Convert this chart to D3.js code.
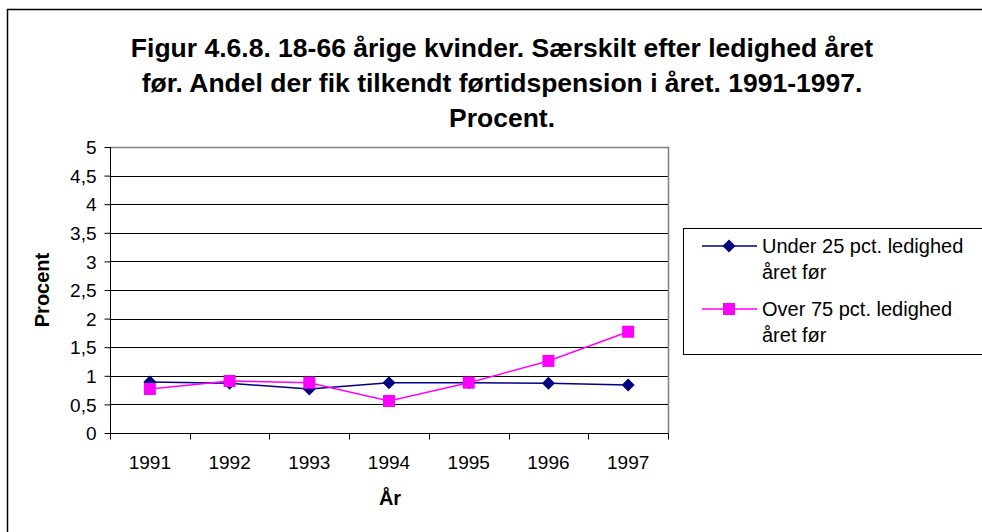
<!DOCTYPE html>
<html>
<head>
<meta charset="utf-8">
<script src="https://cdn.jsdelivr.net/npm/d3@7"></script>
<style>
  body { margin: 0; background: #fff; }
  svg text { font-family: Arial, "Liberation Sans", sans-serif; fill: #000; }
</style>
</head>
<body>
<div id="chart"></div>
<script>
var years = ['1991', '1992', '1993', '1994', '1995', '1996', '1997'];
var under25 = [0.89, 0.87, 0.77, 0.88, 0.88, 0.87, 0.84];
var over75 = [0.77, 0.91, 0.88, 0.56, 0.88, 1.26, 1.77];
var yTicks = [0, 0.5, 1, 1.5, 2, 2.5, 3, 3.5, 4, 4.5, 5];
var titleLines = [
    'Figur 4.6.8. 18-66 årige kvinder. Særskilt efter ledighed året',
    'før. Andel der fik tilkendt førtidspension i året. 1991-1997.',
    'Procent.'
];
var seriesNames = [['Under 25 pct. ledighed', 'året før'], ['Over 75 pct. ledighed', 'året før']];

var W = 982, H = 532;
var plot = { left: 110, top: 147, right: 668, bottom: 433 };

var svg = d3.select('#chart').append('svg')
    .attr('width', W)
    .attr('height', H);

// outer chart border (runs off the right and bottom edge)
svg.append('rect')
    .attr('x', 7.5).attr('y', 9.5)
    .attr('width', 1000).attr('height', 600)
    .attr('fill', '#fff')
    .attr('stroke', '#000')
    .attr('stroke-width', 1.5);

var x = d3.scaleBand().domain(years).range([plot.left, plot.right]);
var y = d3.scaleLinear().domain([0, 5]).range([plot.bottom, plot.top]);

// gridlines
svg.append('g')
    .selectAll('line')
    .data(yTicks.slice(1))
    .enter().append('line')
    .attr('x1', plot.left).attr('x2', plot.right)
    .attr('y1', function(d){ return Math.round(y(d)) + 0.5; })
    .attr('y2', function(d){ return Math.round(y(d)) + 0.5; })
    .attr('stroke', '#000')
    .attr('stroke-width', 1);

// plot area frame (grey, top & right)
svg.append('path')
    .attr('d', 'M' + plot.left + ',' + (plot.top + 0.5) + 'H' + (plot.right + 0.5) + 'V' + plot.bottom)
    .attr('fill', 'none')
    .attr('stroke', '#808080')
    .attr('stroke-width', 1.5);

// y axis
var yAxis = svg.append('g')
    .attr('transform', 'translate(' + (plot.left + 0.5) + ',0)')
    .call(d3.axisLeft(y).tickValues(yTicks).tickSize(6).tickPadding(8)
        .tickFormat(function(d){ return String(d).replace('.', ','); }));
yAxis.selectAll('text').style('font-size', '19px').attr('dy', '0.35em');
yAxis.selectAll('line, path').attr('stroke', '#000');
yAxis.select('.domain').attr('d', 'M0,' + plot.top + 'V' + (plot.bottom + 0.5));

// x axis
var xAxis = svg.append('g')
    .attr('transform', 'translate(0,' + (plot.bottom + 0.5) + ')')
    .call(d3.axisBottom(x).tickSize(0).tickPadding(22));
xAxis.selectAll('text').style('font-size', '19px');
xAxis.select('.domain').attr('d', 'M' + plot.left + ',0H' + (plot.right + 0.5)).attr('stroke', '#000');
// tick marks between categories
xAxis.selectAll('line.sep')
    .data(years.concat(['end']))
    .enter().append('line')
    .attr('class', 'sep')
    .attr('x1', function(d, i){ return Math.round(plot.left + i * x.bandwidth()) + 0.5; })
    .attr('x2', function(d, i){ return Math.round(plot.left + i * x.bandwidth()) + 0.5; })
    .attr('y1', 0).attr('y2', 6)
    .attr('stroke', '#000');

// axis titles
svg.append('text')
    .attr('transform', 'translate(49,' + ((plot.top + plot.bottom) / 2) + ') rotate(-90)')
    .attr('text-anchor', 'middle')
    .style('font-size', '20px')
    .style('font-weight', 'bold')
    .text('Procent');
svg.append('text')
    .attr('x', 390).attr('y', 505)
    .attr('text-anchor', 'middle')
    .style('font-size', '20px')
    .style('font-weight', 'bold')
    .text('År');

// title
svg.append('g').selectAll('text')
    .data(titleLines)
    .enter().append('text')
    .attr('x', 502)
    .attr('y', function(d, i){ return 57 + i * 35; })
    .attr('text-anchor', 'middle')
    .style('font-size', '26.5px')
    .style('font-weight', 'bold')
    .text(function(d){ return d; });

// series
var cx = function(d, i){ return x(years[i]) + x.bandwidth() / 2; };
var line = d3.line().x(cx).y(function(d){ return y(d); });
var diamond = 'M0,-6.5L6.5,0L0,6.5L-6.5,0Z';

svg.append('path').datum(under25)
    .attr('d', line).attr('fill', 'none')
    .attr('stroke', '#000080').attr('stroke-width', 1.5);
svg.append('path').datum(over75)
    .attr('d', line).attr('fill', 'none')
    .attr('stroke', '#ff00ff').attr('stroke-width', 1.5);

svg.append('g').selectAll('path')
    .data(under25)
    .enter().append('path')
    .attr('d', diamond)
    .attr('transform', function(d, i){ return 'translate(' + cx(d, i) + ',' + y(d) + ')'; })
    .attr('fill', '#000080');

svg.append('g').selectAll('rect')
    .data(over75)
    .enter().append('rect')
    .attr('x', function(d, i){ return cx(d, i) - 6; })
    .attr('y', function(d){ return y(d) - 6; })
    .attr('width', 12).attr('height', 12)
    .attr('fill', '#ff00ff');

// legend
var lg = svg.append('g');
lg.append('rect')
    .attr('x', 683.5).attr('y', 228.5)
    .attr('width', 320).attr('height', 126)
    .attr('fill', '#fff')
    .attr('stroke', '#000')
    .attr('stroke-width', 1);

var colors = ['#000080', '#ff00ff'];
seriesNames.forEach(function(names, k){
    var ly = 246 + k * 63;
    lg.append('line')
        .attr('x1', 702).attr('x2', 757)
        .attr('y1', ly).attr('y2', ly)
        .attr('stroke', colors[k]).attr('stroke-width', 1.5);
    if (k === 0) {
        lg.append('path').attr('d', diamond)
            .attr('transform', 'translate(729,' + ly + ')')
            .attr('fill', colors[k]);
    } else {
        lg.append('rect')
            .attr('x', 723).attr('y', ly - 6)
            .attr('width', 12).attr('height', 12)
            .attr('fill', colors[k]);
    }
    names.forEach(function(t, j){
        lg.append('text')
            .attr('x', 762)
            .attr('y', ly + 7 + j * 26)
            .style('font-size', '20px')
            .text(t);
    });
});
</script>
</body>
</html>
